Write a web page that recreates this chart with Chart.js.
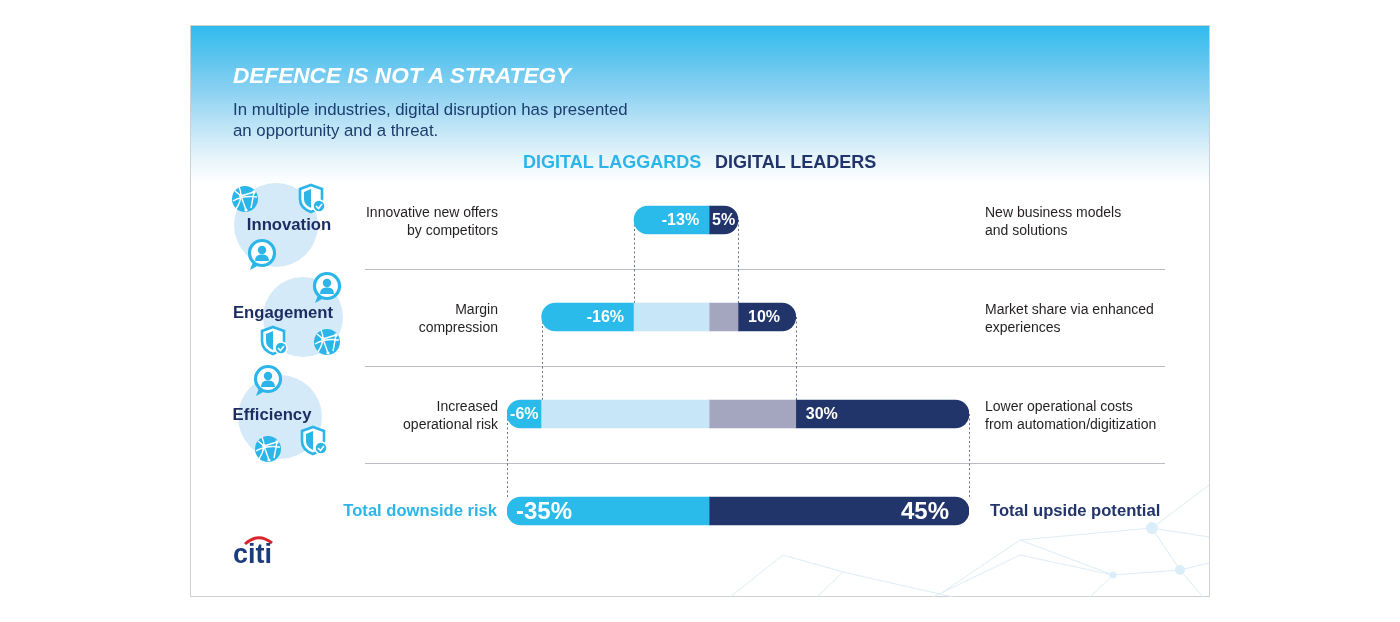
<!DOCTYPE html>
<html><head><meta charset="utf-8">
<script src="https://cdn.jsdelivr.net/npm/chart.js@4.4.1/dist/chart.umd.min.js"></script>
<style>
html,body{margin:0;padding:0;background:#fff;width:1400px;height:622px;overflow:hidden;font-family:"Liberation Sans",Arial,sans-serif;}
#card{position:absolute;left:190px;top:25px;width:1018px;height:570px;border:1px solid #cfd0d2;
 background:linear-gradient(to bottom,#2fbbee 0px,#5ec5ee 33px,#8ed2f2 67px,#bde4f6 100px,#e8f5fb 133px,#ffffff 158px);}
#deco{position:absolute;left:0;top:0;}
#chart{position:absolute;left:0;top:0;}
.t{position:absolute;white-space:pre;}
</style></head>
<body>
<div id="card"></div>
<svg id="deco" width="1400" height="622" xmlns="http://www.w3.org/2000/svg">
 <defs>
  <g id="globe">
   <circle r="13" fill="#2bb5e8"/>
   <path d="M-10,-8 L-4,-3 L1,11 M-4,-3 L9,-7 M-12,2 Q-2,-4 12,-2 M9,-7 L6,9 M-6,-12 Q-1,-2 -9,10" stroke="#fff" stroke-width="1.4" fill="none"/>
   <circle cx="-4" cy="-3" r="2" fill="#fff"/><circle cx="9" cy="-7" r="1.8" fill="#fff"/><circle cx="1" cy="11" r="1.6" fill="#fff"/>
  </g>
  <g id="shield">
   <path d="M0,-13 L11,-9 L11,1 Q11,10 0,14 Q-11,10 -11,1 L-11,-9 Z" fill="#fff" stroke="#2bb5e8" stroke-width="2.6"/>
   <path d="M0,-9 L-7,-6 L-7,1 Q-7,7 0,10 Z" fill="#2bb5e8"/>
   <circle cx="8" cy="8" r="6" fill="#2bb5e8" stroke="#fff" stroke-width="1.5"/>
   <path d="M5,8 L7.5,10.5 L11,6" stroke="#fff" stroke-width="1.6" fill="none"/>
  </g>
  <g id="person">
   <path d="M-9,9 L-12,17 L-3,12 Z" fill="#2bb5e8"/>
   <circle r="12.5" fill="#fff" stroke="#2bb5e8" stroke-width="3.2"/>
   <circle cx="0" cy="-3" r="4.2" fill="#2bb5e8"/>
   <path d="M-7,8 Q-7,1 0,1.5 Q7,1 7,8 Z" fill="#2bb5e8"/>
  </g>
 </defs>
 <g stroke="#dcedf8" stroke-width="1" fill="none">
  <path d="M1209,485 L1152,528 L1180,570 L1209,563"/>
  <path d="M1152,528 L1209,537"/>
  <path d="M1180,570 L1203,597"/>
  <path d="M1152,528 L1020,540 L1113,575 L1180,570"/>
  <path d="M1020,555 L1113,575 L1090,597"/>
  <path d="M1020,540 L943,592"/>
  <path d="M1020,555 L933,597"/>
  <path d="M783,555 L730,597"/>
  <path d="M783,555 L843,572 L953,597"/>
  <path d="M843,572 L817,597"/>
 </g>
 <g fill="#daedf9">
  <circle cx="1152" cy="528" r="6"/><circle cx="1180" cy="570" r="5"/><circle cx="1113" cy="575" r="3.5"/>
 </g>
 <g fill="#d5eaf8">
  <circle cx="276" cy="225" r="42"/>
  <circle cx="303" cy="317" r="40"/>
  <circle cx="280" cy="417" r="42"/>
 </g>
 <use href="#globe" x="245" y="199"/>
 <use href="#shield" x="311" y="198"/>
 <use href="#person" x="262" y="253"/>
 <use href="#person" x="327" y="286"/>
 <use href="#shield" x="273" y="340"/>
 <use href="#globe" x="327" y="342"/>
 <use href="#person" x="268" y="379"/>
 <use href="#shield" x="313" y="440"/>
 <use href="#globe" x="268" y="449"/>
 <path d="M245,544 Q258,532 272,543" stroke="#d9262c" stroke-width="3" fill="none"/>
</svg>
<canvas id="chart" width="1400" height="622" style="width:1400px;height:622px"></canvas>
<script>
// ---- data ----
const categories = ['Innovation', 'Engagement', 'Efficiency', 'Total'];
const laggardImpact = [-13, -16, -6];
const leaderImpact = [5, 10, 30];
const laggardNotes = [['Innovative new offers', 'by competitors'], ['Margin', 'compression'], ['Increased', 'operational risk']];
const leaderNotes = [['New business models', 'and solutions'], ['Market share via enhanced', 'experiences'], ['Lower operational costs', 'from automation/digitization']];
const totalLabels = ['Total downside risk', 'Total upside potential'];
const legendLabels = ['DIGITAL LAGGARDS', 'DIGITAL LEADERS'];
const titleText = 'DEFENCE IS NOT A STRATEGY';
const subtitleLines = ['In multiple industries, digital disruption has presented', 'an opportunity and a threat.'];

// ---- derived floating ranges ----
const BLUE = '#2bbbea', LIGHT = '#c7e7f8', GRAY = '#a4a5bf', NAVY = '#22356b';
let lagCum = 0, leadCum = 0;
const lagNew = [], lagCarry = [], leadCarry = [], leadNew = [];
laggardImpact.forEach((v, i) => {
  lagNew.push([lagCum + v, lagCum]);
  lagCarry.push(lagCum < 0 ? [lagCum, 0] : null);
  leadCarry.push(leadCum > 0 ? [0, leadCum] : null);
  leadNew.push([leadCum, leadCum + leaderImpact[i]]);
  lagCum += v; leadCum += leaderImpact[i];
});
lagNew.push([lagCum, 0]); leadNew.push([0, leadCum]);
lagCarry.push(null); leadCarry.push(null);
const lagValues = laggardImpact.concat([lagCum]);
const leadValues = leaderImpact.concat([leadCum]);

const BAR = 28, R = 14;
const base = {grouped: false, barThickness: BAR, borderSkipped: false, borderWidth: 0};

const decoPlugin = {
  id: 'deco',
  beforeDatasetsDraw(chart) {
    const ctx = chart.ctx, xs = chart.scales.x, ys = chart.scales.y;
    ctx.save();
    ctx.strokeStyle = '#b9bcc3'; ctx.lineWidth = 1;
    for (let i = 0; i < 3; i++) {
      const y = Math.round((ys.getPixelForValue(i) + ys.getPixelForValue(i + 1)) / 2) + 0.5;
      ctx.beginPath(); ctx.moveTo(365, y); ctx.lineTo(1165, y); ctx.stroke();
    }
    ctx.strokeStyle = '#6b6f8c'; ctx.setLineDash([2, 2.5]);
    for (let i = 0; i < 3; i++) {
      const y0 = ys.getPixelForValue(i), y1 = ys.getPixelForValue(i + 1) - BAR / 2;
      [lagNew[i][0], leadNew[i][1]].forEach(v => {
        const x = Math.round(xs.getPixelForValue(v)) + 0.5;
        ctx.beginPath(); ctx.moveTo(x, y0); ctx.lineTo(x, y1); ctx.stroke();
      });
    }
    ctx.restore();
  },
  afterDatasetsDraw(chart) {
    const ctx = chart.ctx;
    ctx.save();
    ctx.fillStyle = '#fff'; ctx.textBaseline = 'middle';
    const draw = (dsIndex, values, side) => {
      chart.getDatasetMeta(dsIndex).data.forEach((el, i) => {
        const l = Math.min(el.x, el.base), r = Math.max(el.x, el.base), w = r - l;
        const txt = values[i] + '%';
        const total = i === categories.length - 1;
        ctx.font = total ? 'bold 24px "Liberation Sans", Arial' : 'bold 16px "Liberation Sans", Arial';
        const tw = ctx.measureText(txt).width;
        if (total) {
          if (side === 'lag') { ctx.textAlign = 'left'; ctx.fillText(txt, l + 9, el.y + 1); }
          else { ctx.textAlign = 'right'; ctx.fillText(txt, r - 20, el.y + 1); }
        } else {
          const pad = Math.max(0, Math.min(10, (w - tw) / 2));
          if (side === 'lag') { ctx.textAlign = 'right'; ctx.fillText(txt, r - pad, el.y + 1); }
          else { ctx.textAlign = 'left'; ctx.fillText(txt, l + pad, el.y + 1); }
        }
      });
    };
    draw(2, lagValues, 'lag');
    draw(3, leadValues, 'lead');
    ctx.restore();
  }
};

const chart = new Chart(document.getElementById('chart'), {
  type: 'bar',
  data: {
    labels: categories,
    datasets: [
      Object.assign({label: 'laggard carry', data: lagCarry, backgroundColor: LIGHT, borderRadius: 0}, base),
      Object.assign({label: 'leader carry', data: leadCarry, backgroundColor: GRAY, borderRadius: 0}, base),
      Object.assign({label: 'laggard', data: lagNew, backgroundColor: BLUE,
        borderRadius: {topLeft: R, bottomLeft: R, topRight: 0, bottomRight: 0}}, base),
      Object.assign({label: 'leader', data: leadNew, backgroundColor: NAVY,
        borderRadius: {topLeft: 0, bottomLeft: 0, topRight: R, bottomRight: R}}, base)
    ]
  },
  options: {
    indexAxis: 'y',
    responsive: false,
    animation: false,
    devicePixelRatio: 1,
    layout: {padding: {left: 507, right: 431, top: 171.5, bottom: 62.5}},
    scales: {
      x: {type: 'linear', min: lagCum, max: leadCum, display: false},
      y: {type: 'category', display: false, offset: true, grid: {offset: true}}
    },
    plugins: {legend: {display: false}, tooltip: {enabled: false}, title: {display: false}}
  },
  plugins: [decoPlugin]
});

// ---- text overlays ----
function addText(lines, x, y, align, font, color, lh) {
  const d = document.createElement('div');
  d.className = 't';
  d.style.font = font; d.style.color = color; d.style.lineHeight = lh + 'px'; d.style.textAlign = align;
  d.textContent = lines.join('\n');
  d.style.top = (y - lines.length * lh / 2) + 'px';
  if (align === 'right') d.style.right = (1400 - x) + 'px';
  else if (align === 'center') { d.style.left = x + 'px'; d.style.transform = 'translateX(-50%)'; }
  else d.style.left = x + 'px';
  document.body.appendChild(d);
  return d;
}
const ys = chart.scales.y;
addText([titleText], 233, 76, 'left', 'italic bold 22.6px "Liberation Sans", Arial', '#ffffff', 26);
addText(subtitleLines, 233, 120, 'left', '16.8px "Liberation Sans", Arial', '#1d3d6e', 21);
addText([legendLabels[0]], 523, 162, 'left', 'bold 18px "Liberation Sans", Arial', '#2bb5e8', 22);
addText([legendLabels[1]], 715, 162, 'left', 'bold 18px "Liberation Sans", Arial', NAVY, 22);
const catPos = [[289, 225], [283, 313], [272, 415]];
for (let i = 0; i < 3; i++) {
  const y = ys.getPixelForValue(i);
  addText([categories[i]], catPos[i][0], catPos[i][1], 'center', 'bold 16.7px "Liberation Sans", Arial', '#1d2d63', 20);
  addText(laggardNotes[i], 498, y + 1, 'right', '14px "Liberation Sans", Arial', '#231f20', 18);
  addText(leaderNotes[i], 985, y + 1, 'left', '14px "Liberation Sans", Arial', '#231f20', 18);
}
const yt = ys.getPixelForValue(3);
addText([totalLabels[0]], 497, yt, 'right', 'bold 16.6px "Liberation Sans", Arial', '#2bb5e8', 20);
addText([totalLabels[1]], 990, yt, 'left', 'bold 16.6px "Liberation Sans", Arial', NAVY, 20);
addText(['citi'], 233, 554, 'left', 'bold 27px "Liberation Sans", Arial', '#1a3b7c', 30);
</script>
</body></html>
